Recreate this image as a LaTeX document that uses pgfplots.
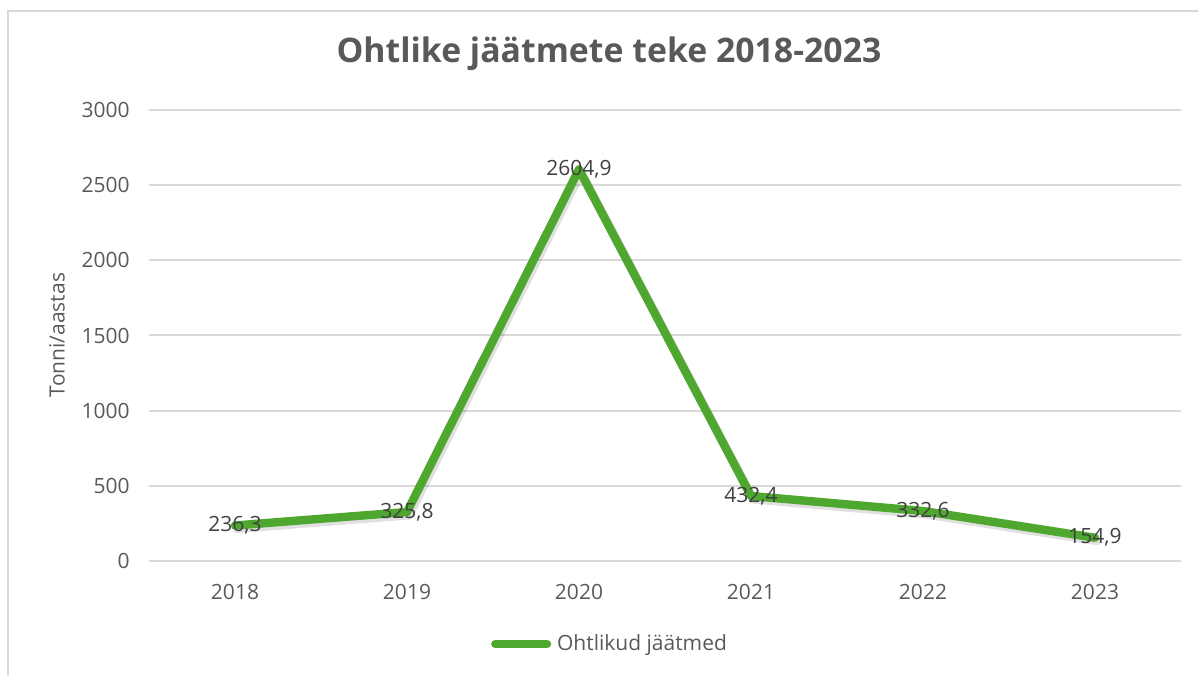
\documentclass[border=0pt]{standalone}
\usepackage{pgfplots}
\pgfplotsset{compat=1.18}
\usepackage{fontspec}
\setmainfont{Open Sans}
\definecolor{linegreen}{HTML}{4EA72E}
\definecolor{gridgray}{HTML}{D9D9D9}
\definecolor{txtgray}{HTML}{595959}
\definecolor{lblgray}{HTML}{404040}
\definecolor{framegray}{HTML}{D9D9D9}
\begin{document}
\begin{tikzpicture}
\useasboundingbox (0,0) rectangle (599pt,337.5pt);
\draw[framegray, line width=1pt] (4pt,-5pt) -- (4pt,332pt) -- (605pt,332pt);
\begin{axis}[
  at={(74.5pt,57pt)}, anchor=south west,
  scale only axis, width=516pt, height=225.5pt,
  xmin=-0.5, xmax=5.5, ymin=0, ymax=3000,
  xtick={0,1,2,3,4,5},
  xticklabels={2018,2019,2020,2021,2022,2023},
  ytick={0,500,1000,1500,2000,2500,3000},
  major tick length=0pt,
  axis line style={draw=none},
  ymajorgrids, grid style={gridgray, line width=1pt},
  clip=false,
  /pgf/number format/assume math mode=true,
  /pgf/number format/1000 sep={},
  tick label style={font=\fontsize{10.5}{12}\selectfont, text=txtgray},
  yticklabel style={inner sep=0pt, anchor=east, xshift=-9.5pt},
  xticklabel style={inner sep=0pt, anchor=north, yshift=-11.5pt},
  ylabel={Tonni/aastas},
  every axis y label/.style={at={(axis description cs:-0.0891,0.501)}, rotate=90, anchor=center, font=\fontsize{10.5}{12}\selectfont, text=txtgray},
  title={\textbf{Ohtlike jäätmete teke 2018-2023}},
  every axis title/.style={at={(axis description cs:0.4457,1.124)}, anchor=center, font=\fontsize{16.9}{20}\selectfont, text=txtgray},
  legend style={at={(axis description cs:0.4477,-0.184)}, anchor=center, draw=none, fill=none,
    font=\fontsize{10.5}{12}\selectfont, text=txtgray, inner sep=0pt,
    /tikz/every even column/.append style={column sep=0pt}},
  legend cell align=left,
  legend image code/.code={\draw[#1, line width=4pt, line cap=round] (0pt,0pt) -- (26pt,0pt);},
  nodes near coords,
  every node near coord/.append style={anchor=center, font=\fontsize{10.5}{12}\selectfont, text=lblgray,
     /pgf/number format/.cd, use comma, fixed, fixed zerofill, precision=1, 1000 sep={}},
]
\addplot[black, opacity=0.12, line width=4.5pt, line join=round, line cap=round, forget plot,
  transform canvas={xshift=1pt, yshift=-1.5pt}, nodes near coords={}]
  coordinates {(0,236.3) (1,325.8) (2,2604.9) (3,432.4) (4,332.6) (5,154.9)};
\addplot[linegreen, line width=4.2pt, line join=round, line cap=round]
  coordinates {(0,236.3) (1,325.8) (2,2604.9) (3,432.4) (4,332.6) (5,154.9)};
\addlegendentry{\hspace{1pt}Ohtlikud jäätmed}
\end{axis}
\end{tikzpicture}
\end{document}
